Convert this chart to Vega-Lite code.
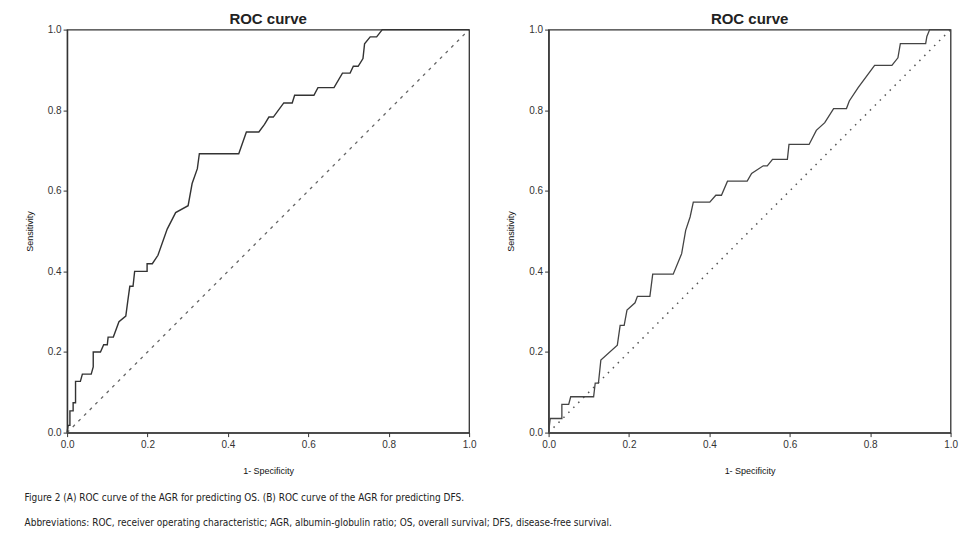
{
  "$schema": "https://vega.github.io/schema/vega-lite/v6.json",
  "background": "white",
  "padding": {"left": 24.1, "top": 10.6, "right": 5, "bottom": 5},
  "spacing": 28.5,
  "datasets": {
    "os": [
      {"i": 0, "fpr": 0, "tpr": 0},
      {"i": 1, "fpr": 0.0025, "tpr": 0.018},
      {"i": 2, "fpr": 0.007, "tpr": 0.018},
      {"i": 3, "fpr": 0.007, "tpr": 0.054},
      {"i": 4, "fpr": 0.015, "tpr": 0.054},
      {"i": 5, "fpr": 0.015, "tpr": 0.074},
      {"i": 6, "fpr": 0.021, "tpr": 0.074},
      {"i": 7, "fpr": 0.021, "tpr": 0.127},
      {"i": 8, "fpr": 0.033, "tpr": 0.127},
      {"i": 9, "fpr": 0.038, "tpr": 0.145},
      {"i": 10, "fpr": 0.06, "tpr": 0.145},
      {"i": 11, "fpr": 0.065, "tpr": 0.163},
      {"i": 12, "fpr": 0.065, "tpr": 0.2},
      {"i": 13, "fpr": 0.083, "tpr": 0.2},
      {"i": 14, "fpr": 0.091, "tpr": 0.218},
      {"i": 15, "fpr": 0.1, "tpr": 0.218},
      {"i": 16, "fpr": 0.102, "tpr": 0.237},
      {"i": 17, "fpr": 0.115, "tpr": 0.237},
      {"i": 18, "fpr": 0.129, "tpr": 0.275},
      {"i": 19, "fpr": 0.146, "tpr": 0.289},
      {"i": 20, "fpr": 0.151, "tpr": 0.327},
      {"i": 21, "fpr": 0.156, "tpr": 0.363},
      {"i": 22, "fpr": 0.164, "tpr": 0.363},
      {"i": 23, "fpr": 0.168, "tpr": 0.4},
      {"i": 24, "fpr": 0.199, "tpr": 0.4},
      {"i": 25, "fpr": 0.199, "tpr": 0.419},
      {"i": 26, "fpr": 0.212, "tpr": 0.419},
      {"i": 27, "fpr": 0.226, "tpr": 0.44},
      {"i": 28, "fpr": 0.249, "tpr": 0.505},
      {"i": 29, "fpr": 0.27, "tpr": 0.546},
      {"i": 30, "fpr": 0.301, "tpr": 0.563},
      {"i": 31, "fpr": 0.311, "tpr": 0.618},
      {"i": 32, "fpr": 0.324, "tpr": 0.655},
      {"i": 33, "fpr": 0.329, "tpr": 0.692},
      {"i": 34, "fpr": 0.427, "tpr": 0.692},
      {"i": 35, "fpr": 0.446, "tpr": 0.746},
      {"i": 36, "fpr": 0.477, "tpr": 0.746},
      {"i": 37, "fpr": 0.491, "tpr": 0.765},
      {"i": 38, "fpr": 0.502, "tpr": 0.783},
      {"i": 39, "fpr": 0.513, "tpr": 0.783},
      {"i": 40, "fpr": 0.539, "tpr": 0.818},
      {"i": 41, "fpr": 0.56, "tpr": 0.818},
      {"i": 42, "fpr": 0.566, "tpr": 0.837},
      {"i": 43, "fpr": 0.614, "tpr": 0.837},
      {"i": 44, "fpr": 0.624, "tpr": 0.856},
      {"i": 45, "fpr": 0.664, "tpr": 0.856},
      {"i": 46, "fpr": 0.685, "tpr": 0.892},
      {"i": 47, "fpr": 0.704, "tpr": 0.892},
      {"i": 48, "fpr": 0.712, "tpr": 0.909},
      {"i": 49, "fpr": 0.724, "tpr": 0.909},
      {"i": 50, "fpr": 0.736, "tpr": 0.928},
      {"i": 51, "fpr": 0.74, "tpr": 0.965},
      {"i": 52, "fpr": 0.754, "tpr": 0.982},
      {"i": 53, "fpr": 0.77, "tpr": 0.982},
      {"i": 54, "fpr": 0.784, "tpr": 1.0},
      {"i": 55, "fpr": 1.0, "tpr": 1.0}
    ],
    "dfs": [
      {"i": 0, "fpr": 0, "tpr": 0},
      {"i": 1, "fpr": 0.004, "tpr": 0.035},
      {"i": 2, "fpr": 0.033, "tpr": 0.035},
      {"i": 3, "fpr": 0.033, "tpr": 0.07},
      {"i": 4, "fpr": 0.05, "tpr": 0.07},
      {"i": 5, "fpr": 0.055, "tpr": 0.089},
      {"i": 6, "fpr": 0.112, "tpr": 0.089},
      {"i": 7, "fpr": 0.116, "tpr": 0.123},
      {"i": 8, "fpr": 0.124, "tpr": 0.123},
      {"i": 9, "fpr": 0.13, "tpr": 0.18},
      {"i": 10, "fpr": 0.171, "tpr": 0.217},
      {"i": 11, "fpr": 0.178, "tpr": 0.266},
      {"i": 12, "fpr": 0.188, "tpr": 0.266},
      {"i": 13, "fpr": 0.195, "tpr": 0.304},
      {"i": 14, "fpr": 0.215, "tpr": 0.322},
      {"i": 15, "fpr": 0.221, "tpr": 0.338},
      {"i": 16, "fpr": 0.252, "tpr": 0.338},
      {"i": 17, "fpr": 0.259, "tpr": 0.393},
      {"i": 18, "fpr": 0.31, "tpr": 0.393},
      {"i": 19, "fpr": 0.331, "tpr": 0.444},
      {"i": 20, "fpr": 0.341, "tpr": 0.502},
      {"i": 21, "fpr": 0.352, "tpr": 0.535},
      {"i": 22, "fpr": 0.36, "tpr": 0.572},
      {"i": 23, "fpr": 0.401, "tpr": 0.572},
      {"i": 24, "fpr": 0.416, "tpr": 0.589},
      {"i": 25, "fpr": 0.43, "tpr": 0.589},
      {"i": 26, "fpr": 0.445, "tpr": 0.624},
      {"i": 27, "fpr": 0.494, "tpr": 0.624},
      {"i": 28, "fpr": 0.505, "tpr": 0.643},
      {"i": 29, "fpr": 0.534, "tpr": 0.662},
      {"i": 30, "fpr": 0.544, "tpr": 0.662},
      {"i": 31, "fpr": 0.557, "tpr": 0.678},
      {"i": 32, "fpr": 0.594, "tpr": 0.678},
      {"i": 33, "fpr": 0.598, "tpr": 0.715},
      {"i": 34, "fpr": 0.648, "tpr": 0.715},
      {"i": 35, "fpr": 0.666, "tpr": 0.75},
      {"i": 36, "fpr": 0.687, "tpr": 0.769},
      {"i": 37, "fpr": 0.709, "tpr": 0.804},
      {"i": 38, "fpr": 0.741, "tpr": 0.804},
      {"i": 39, "fpr": 0.748, "tpr": 0.823},
      {"i": 40, "fpr": 0.77, "tpr": 0.856},
      {"i": 41, "fpr": 0.811, "tpr": 0.911},
      {"i": 42, "fpr": 0.854, "tpr": 0.911},
      {"i": 43, "fpr": 0.869, "tpr": 0.93},
      {"i": 44, "fpr": 0.875, "tpr": 0.965},
      {"i": 45, "fpr": 0.938, "tpr": 0.965},
      {"i": 46, "fpr": 0.941, "tpr": 0.983},
      {"i": 47, "fpr": 0.948, "tpr": 1.0},
      {"i": 48, "fpr": 1.0, "tpr": 1.0}
    ],
    "diag": [
      {"fpr": 0, "tpr": 0},
      {"fpr": 1, "tpr": 1}
    ]
  },
  "title": {
    "text": "Figure 2 (A) ROC curve of the AGR for predicting OS. (B) ROC curve of the AGR for predicting DFS.",
    "subtitle": "Abbreviations: ROC, receiver operating characteristic; AGR, albumin-globulin ratio; OS, overall survival; DFS, disease-free survival.",
    "orient": "bottom",
    "anchor": "start",
    "font": "'DejaVu Sans Condensed', Lato, sans-serif",
    "fontSize": 10,
    "fontWeight": "normal",
    "color": "#222",
    "subtitleFont": "'DejaVu Sans Condensed', Lato, sans-serif",
    "subtitleFontSize": 10,
    "subtitleColor": "#222",
    "subtitlePadding": 15,
    "offset": 17,
    "dx": 0
  },
  "config": {
    "font": "Liberation Sans",
    "view": {"stroke": "#333", "strokeWidth": 1.3},
    "axis": {
      "grid": false,
      "domainColor": "#333",
      "domainWidth": 1.3,
      "tickColor": "#333",
      "tickSize": 4,
      "labelColor": "#333",
      "labelFontSize": 10,
      "labelFont": "Liberation Sans",
      "labelFlush": false,
      "titleFont": "Liberation Sans",
      "titleFontSize": 9,
      "titleFontWeight": "normal",
      "titleColor": "#111"
    },
    "axisX": {"titlePadding": 17, "labelPadding": 3},
    "axisY": {"titlePadding": 13, "labelPadding": 2},
    "title": {"font": "Liberation Sans", "fontSize": 15, "fontWeight": "bold", "color": "#222", "offset": -2}
  },
  "hconcat": [
    {
      "width": 402,
      "height": 403,
      "title": "ROC curve",
      "layer": [
        {
          "data": {"name": "diag"},
          "mark": {"type": "line", "color": "#666", "strokeWidth": 1.3, "strokeDash": [3, 5]},
          "encoding": {
            "x": {"field": "fpr", "type": "quantitative", "scale": {"domain": [0, 1], "nice": false}, "title": "1- Specificity", "axis": {"values": [0, 0.2, 0.4, 0.6, 0.8, 1.0], "format": ".1f"}},
            "y": {"field": "tpr", "type": "quantitative", "scale": {"domain": [0, 1], "nice": false}, "title": "Sensitivity", "axis": {"values": [0, 0.2, 0.4, 0.6, 0.8, 1.0], "format": ".1f"}}
          }
        },
        {
          "data": {"name": "os"},
          "mark": {"type": "line", "color": "#333", "strokeWidth": 1.4},
          "encoding": {
            "x": {"field": "fpr", "type": "quantitative"},
            "y": {"field": "tpr", "type": "quantitative"},
            "order": {"field": "i", "type": "quantitative"}
          }
        }
      ]
    },
    {
      "width": 402,
      "height": 403,
      "title": "ROC curve",
      "layer": [
        {
          "data": {"name": "diag"},
          "mark": {"type": "line", "color": "#555", "strokeWidth": 1.5, "strokeDash": [1.5, 5.5]},
          "encoding": {
            "x": {"field": "fpr", "type": "quantitative", "scale": {"domain": [0, 1], "nice": false}, "title": "1- Specificity", "axis": {"values": [0, 0.2, 0.4, 0.6, 0.8, 1.0], "format": ".1f"}},
            "y": {"field": "tpr", "type": "quantitative", "scale": {"domain": [0, 1], "nice": false}, "title": "Sensitivity", "axis": {"values": [0, 0.2, 0.4, 0.6, 0.8, 1.0], "format": ".1f"}}
          }
        },
        {
          "data": {"name": "dfs"},
          "mark": {"type": "line", "color": "#444", "strokeWidth": 1.3},
          "encoding": {
            "x": {"field": "fpr", "type": "quantitative"},
            "y": {"field": "tpr", "type": "quantitative"},
            "order": {"field": "i", "type": "quantitative"}
          }
        }
      ]
    }
  ]
}
